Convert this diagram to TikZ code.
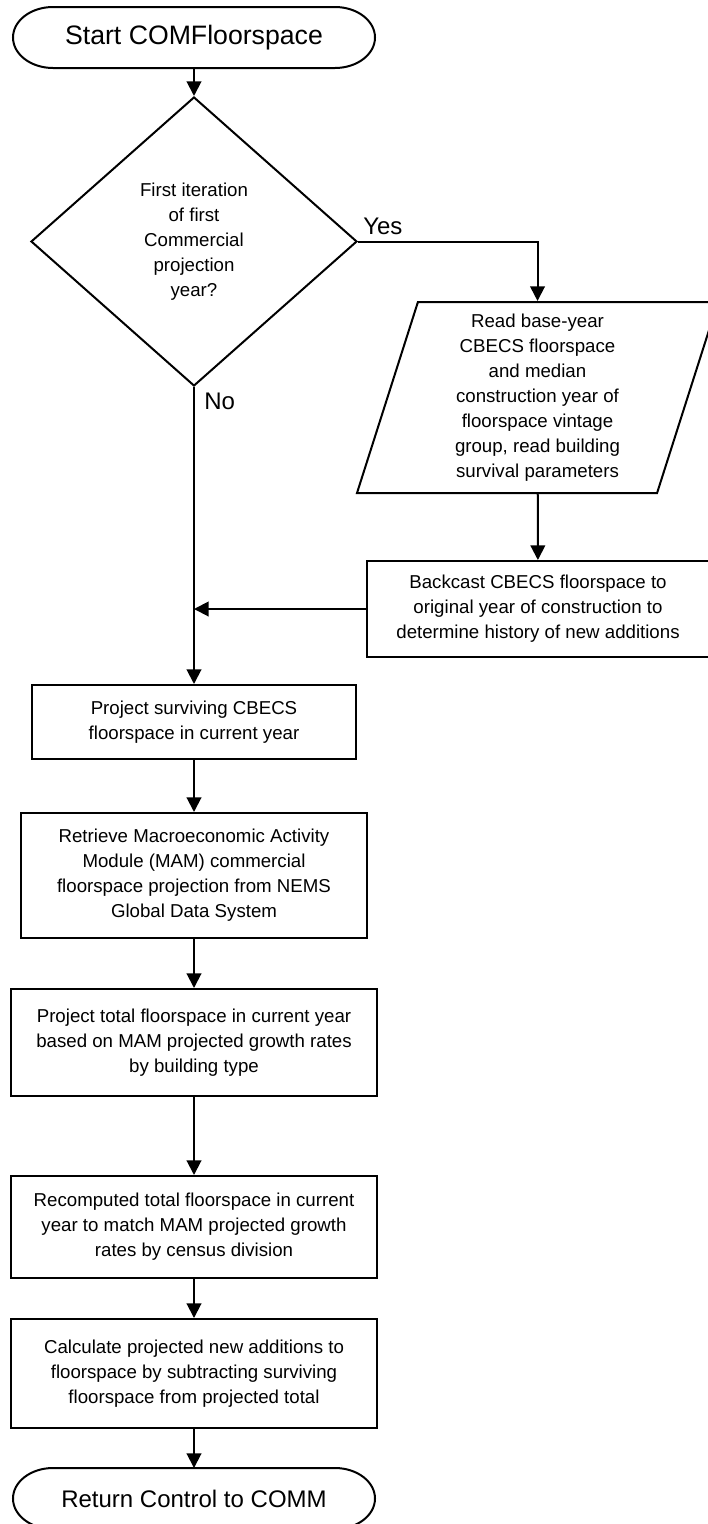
\documentclass[tikz,border=0pt]{standalone}
\usepackage{fontspec}
\setmainfont{Liberation Sans}
\usetikzlibrary{shapes.geometric,arrows.meta}
\tikzset{
  box/.style={draw, line width=1.5pt, align=center, font=\fontsize{14}{18.75}\selectfont, inner sep=0pt},
  process/.style={box, rectangle},
  decision/.style={box, diamond, minimum width=244.5pt, minimum height=216.75pt},
  io/.style={box, trapezium, trapezium left angle=70, trapezium right angle=110, trapezium stretches body, minimum width=270.75pt, minimum height=143.25pt},
  terminal/.style={minimum width=271.5pt, minimum height=45.75pt, outer sep=0pt, inner sep=0pt, font=\fontsize{20}{24}\selectfont},
  flow/.style={line width=1.5pt, -{Triangle[width=11pt,length=11pt]}},
  lbl/.style={font=\fontsize{18}{22}\selectfont, inner sep=0pt, anchor=base west}
}
\begin{document}
\begin{tikzpicture}[x=0.75pt, y=-0.75pt]
\useasboundingbox (0,0) rectangle (707,1524);
\node[terminal] (start) at (194,37.5) {Start COMFloorspace};
\node[decision] (first) at (194,241.5) {First iteration\\of first\\Commercial\\projection\\year?};
\node[io] (readbase) at (537.5,397.5) {Read base-year\\CBECS floorspace\\and median\\construction year of\\floorspace vintage\\group, read building\\survival parameters};
\node[process, minimum width=256.5pt, minimum height=72pt] (backcast) at (538,609) {Backcast CBECS floorspace to\\original year of construction to\\determine history of new additions};
\node[process, minimum width=243pt, minimum height=55.5pt] (survive) at (194,722) {Project surviving CBECS\\floorspace in current year};
\node[process, minimum width=259.5pt, minimum height=93.75pt] (retrieve) at (194,875.5) {Retrieve Macroeconomic Activity\\Module (MAM) commercial\\floorspace projection from NEMS\\Global Data System};
\node[process, minimum width=274.5pt, minimum height=80.25pt] (projtotal) at (194,1042.5) {Project total floorspace in current year\\based on MAM projected growth rates\\by building type};
\node[process, minimum width=274.5pt, minimum height=76.5pt] (recompute) at (194,1227) {Recomputed total floorspace in current\\year to match MAM projected growth\\rates by census division};
\node[process, minimum width=274.5pt, minimum height=81.75pt] (calcnew) at (194,1373.5) {Calculate projected new additions to\\floorspace by subtracting surviving\\floorspace from projected total};
\node[terminal, font=\fontsize{18}{22}\selectfont] (stop) at (194,1498.5) {Return Control to COMM};
\node[lbl] (yes) at (363,234) {Yes};
\node[lbl] (no) at (204,409) {No};
\foreach \t in {start,stop}
  \draw[line width=1.5pt] ([xshift=30pt]\t.north west) -- ([xshift=-30pt]\t.north east) arc[start angle=90, end angle=-90, x radius=30pt, y radius=22.875pt] -- ([xshift=30pt]\t.south west) arc[start angle=270, end angle=90, x radius=30pt, y radius=22.875pt] -- cycle;
\draw[flow] (start) -- (first);
\draw[flow] (first.east) -| (readbase.north);
\draw[flow] (readbase) -- (backcast);
\draw[flow] (first.south) -- (survive.north);
\draw[flow] (backcast.west) -- (backcast.west -| first.south);
\draw[flow] (survive) -- (retrieve);
\draw[flow] (retrieve) -- (projtotal);
\draw[flow] (projtotal) -- (recompute);
\draw[flow] (recompute) -- (calcnew);
\draw[flow] (calcnew) -- (stop);
\end{tikzpicture}
\end{document}
